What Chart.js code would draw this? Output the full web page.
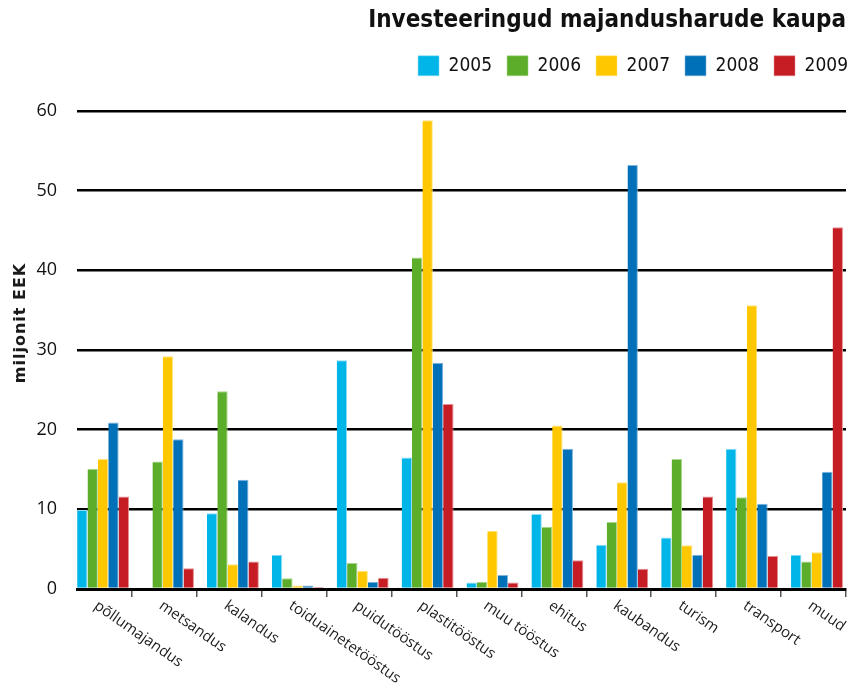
<!DOCTYPE html>
<html><head><meta charset="utf-8">
<script src="https://cdn.jsdelivr.net/npm/chart.js@4/dist/chart.umd.min.js"></script>
<style>html,body{margin:0;padding:0;background:#fff}</style>
</head><body>
<canvas id="c" width="853" height="691"></canvas>
<script>
const categories = ['põllumajandus','metsandus','kalandus','toiduainetetööstus','puidutööstus','plastitööstus','muu tööstus','ehitus','kaubandus','turism','transport','muud'];
const years = ['2005','2006','2007','2008','2009'];
const v2005 = [9.9, 0, 9.5, 4.3, 28.7, 16.5, 0.8, 9.4, 5.55, 6.45, 17.6, 4.3];
const v2006 = [15.1, 16.0, 24.8, 1.35, 3.3, 41.6, 0.9, 7.8, 8.4, 16.3, 11.5, 3.45];
const v2007 = [16.3, 29.2, 3.1, 0.45, 2.3, 58.8, 7.3, 20.5, 13.4, 5.5, 35.6, 4.6];
const v2008 = [20.9, 18.8, 13.7, 0.45, 0.9, 28.4, 1.75, 17.6, 53.2, 4.3, 10.7, 14.7];
const v2009 = [11.6, 2.6, 3.45, 0.25, 1.4, 23.2, 0.8, 3.6, 2.55, 11.6, 4.15, 45.4];
const yTicks = [0, 10, 20, 30, 40, 50, 60];
const chartTitle = 'Investeeringud majandusharude kaupa';
const yTitle = 'miljonit EEK';

const seriesValues = [v2005, v2006, v2007, v2008, v2009];
const fillColors = ['#00b5e8', '#5cad2a', '#ffc700', '#0070b8', '#c51d23'];
const edgeColors = ['#8fdcf5', '#a9d88c', '#ffe480', '#7fb3da', '#e58d90'];

const datasets = years.map((yr, k) => ({
  label: yr,
  data: seriesValues[k].map((v, i) => ({x: i, y: v})),
  backgroundColor: fillColors[k],
  borderColor: edgeColors[k],
  borderWidth: {top: 1, right: 1, left: 0, bottom: 0},
  borderSkipped: false,
  categoryPercentage: 0.8,
  barPercentage: 1.0
}));

const layoutPlugin = {
  id: 'layoutTweaks',
  beforeInit(chart) {
    if (chart.legend) {
      const origFit = chart.legend.fit;
      chart.legend.fit = function () {
        origFit.call(this);
        this.height += 25;
      };
    }
  },
  afterLayout(chart) {
    if (chart.legend) {
      chart.legend.left += 17;
      chart.legend.right += 17;
    }
  }
};

const textPlugin = {
  id: 'extraText',
  afterDraw(chart) {
    const {ctx, chartArea, scales: {x}} = chart;
    ctx.save();
    ctx.font = "15px 'Open Sans'";
    ctx.fillStyle = '#1a1a1a';
    ctx.textAlign = 'left';
    ctx.textBaseline = 'top';
    categories.forEach((lab, i) => {
      const px = x.getPixelForValue(i);
      ctx.save();
      ctx.translate(px - 3, chartArea.bottom + 9);
      ctx.rotate(35 * Math.PI / 180);
      ctx.fillText(lab, 0, 0);
      ctx.restore();
    });
    ctx.font = "bold 16px 'DejaVu Sans'";
    try { ctx.letterSpacing = '1px'; } catch (e) {}
    ctx.textAlign = 'center';
    ctx.textBaseline = 'middle';
    ctx.translate(21, 323);
    ctx.rotate(-Math.PI / 2);
    ctx.fillText(yTitle, 0, 0);
    ctx.restore();
  }
};

new Chart(document.getElementById('c'), {
  type: 'bar',
  data: {datasets},
  plugins: [layoutPlugin, textPlugin],
  options: {
    responsive: false,
    animation: false,
    devicePixelRatio: 1,
    layout: {padding: {left: 0, right: 7, top: 0, bottom: 0}},
    plugins: {
      title: {
        display: true, text: chartTitle, align: 'end', color: '#111',
        font: {family: "'DejaVu Sans Condensed'", size: 24, weight: 'bold', lineHeight: 1.2},
        padding: {top: 6, bottom: 6}
      },
      legend: {
        display: true, position: 'top', align: 'end',
        labels: {boxWidth: 21, boxHeight: 20, padding: 15, color: '#111',
          font: {family: "'DejaVu Sans Condensed'", size: 19}}
      },
      tooltip: {enabled: false}
    },
    scales: {
      x: {
        type: 'linear', min: -0.402, max: 11.447, offset: false,
        afterBuildTicks: s => { s.ticks = categories.map((c, i) => ({value: i + 0.445})); },
        afterFit: s => { s.height = 102; },
        ticks: {display: false},
        grid: {display: true, offset: false, drawOnChartArea: false, drawTicks: true, tickLength: 8, color: '#555', lineWidth: 1.5},
        border: {display: true, color: '#000', width: 3}
      },
      y: {
        min: 0, max: 60,
        afterBuildTicks: s => { s.ticks = yTicks.map(v => ({value: v})); },
        afterFit: s => { s.width = 77; },
        ticks: {padding: 20, color: '#111', font: {family: "'Open Sans'", size: 18}},
        grid: {color: '#000', lineWidth: 2.5, drawTicks: false},
        border: {display: false}
      }
    }
  }
});
</script>
</body></html>
